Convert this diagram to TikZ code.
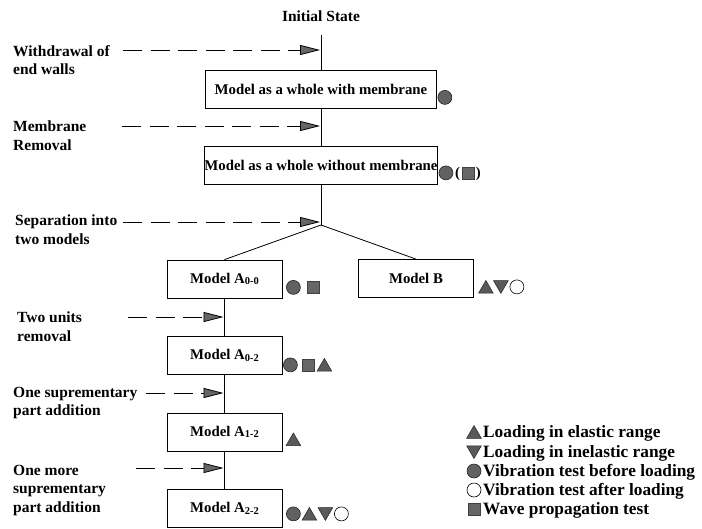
\documentclass[tikz,border=0pt]{standalone}
\usepackage{fontspec}
\setmainfont{Liberation Serif}
\usetikzlibrary{positioning,shapes.geometric,arrows.meta}

\newcommand\mdlsub[1]{{\fontsize{10.5}{11}\selectfont\raisebox{-1.5pt}{#1}}}

\tikzset{
  stage/.style={draw, line width=0.8pt, minimum height=38pt, inner sep=0pt,
    font=\fontsize{14.8}{16}\selectfont\bfseries},
  wholebox/.style={stage, minimum width=231pt},
  modelbox/.style={stage, minimum width=115pt},
  note/.style={anchor=north west, align=left, inner sep=0pt,
    font=\fontsize{15.5}{18.5}\selectfont\bfseries},
  feed/.style={line width=0.8pt, dash pattern=on 19pt off 8.5pt, shorten >=1pt,
    -{Triangle[length=20pt,width=10pt,fill=black!60]}},
  vpre/.style={circle, draw=black!85, fill=black!62, line width=0.6pt,
    minimum size=14pt, inner sep=0pt},
  vpost/.style={circle, draw, line width=0.6pt, minimum size=14pt, inner sep=0pt},
  tri/.style={regular polygon, regular polygon sides=3, draw=black!85, fill=black!65,
    line width=0.5pt, minimum size=17pt, inner sep=0pt},
  lel/.style={tri, yshift=-2pt},
  linel/.style={tri, shape border rotate=180, yshift=2pt},
  wave/.style={rectangle, draw=black!75, fill=black!60, minimum size=12pt, inner sep=0pt},
  key/.style={anchor=base west, inner sep=0pt, font=\fontsize{17.3}{19}\selectfont\bfseries}
}

\begin{document}
\begin{tikzpicture}[x=1pt, y=-1pt, on grid, node distance=76.5pt]
  \useasboundingbox (0,0) rectangle (702,528);

  % main column
  \node[font=\fontsize{15.5}{17}\selectfont\bfseries] (init) at (321,16) {Initial State};
  \node[wholebox] (whole1) at (321,89) {Model as a whole with membrane};
  \node[wholebox] (whole2) [below=of whole1] {Model as a whole without membrane};
  \coordinate[below=59.5pt of whole2] (split);

  \node[modelbox] (a00) at (224.5,279) {Model A\mdlsub{0-0}};
  \node[modelbox] (b) at (416,278.5) {Model B};
  \node[modelbox] (a02) [below=of a00] {Model A\mdlsub{0-2}};
  \node[modelbox] (a12) [below=of a02] {Model A\mdlsub{1-2}};
  \node[modelbox] (a22) [below=of a12] {Model A\mdlsub{2-2}};

  \draw[line width=0.8pt, shorten <=10pt] (init) -- (whole1);
  \draw[line width=0.8pt] (whole1) -- (whole2);
  \draw[line width=0.8pt] (whole2) -- (split);
  \draw[line width=0.8pt] (split) -- (a00.north);
  \draw[line width=0.8pt] (split) -- (b.north);
  \draw[line width=0.8pt] (a00) -- (a02);
  \draw[line width=0.8pt] (a02) -- (a12);
  \draw[line width=0.8pt] (a12) -- (a22);

  % operations
  \node[note] (wlab) at (13,45) {Withdrawal of\\end walls};
  \node[note] (mlab) at (13,121) {Membrane\\Removal};
  \node[note] (slab) at (15,215) {Separation into\\two models};
  \node[note] (tlab) at (17,312) {Two units\\removal};
  \node[note] (olab) at (13,387) {One suprementary\\part addition};
  \node[note] (mplab) at (13,465) {One more\\suprementary\\part addition};

  \coordinate (wfrom) at (123,50);
  \coordinate (mfrom) at (122,126);
  \coordinate (sfrom) at (123,222);
  \coordinate (tfrom) at (128,317);
  \coordinate (ofrom) at (146,393);
  \coordinate (mpfrom) at (136,468);
  \draw[feed] (wfrom) -- (wfrom -| whole1);
  \draw[feed] (mfrom) -- (mfrom -| whole2);
  \draw[feed] (sfrom) -- (sfrom -| split);
  \draw[feed] (tfrom) -- (tfrom -| a00);
  \draw[feed] (ofrom) -- (ofrom -| a02);
  \draw[feed] (mpfrom) -- (mpfrom -| a12);

  % tests
  \coordinate (w1s) at ([xshift=8pt,yshift=11pt]whole1.south east);
  \node[vpre] (w1v) at (w1s) {};

  \coordinate (w2s) at ([xshift=8pt,yshift=12pt]whole2.south east);
  \node[vpre] (w2v) at (w2s) {};
  \node[wave] (w2w) at ([xshift=22pt]w2s) {};
  \node[inner sep=0pt, font=\fontsize{14.8}{16}\selectfont\bfseries] (w2p) at ([xshift=22pt,yshift=-1pt]w2s) {(\hspace{16pt})};

  \coordinate (a0s) at ([xshift=11pt,yshift=11pt]a00.south east);
  \node[vpre] (a0v) at (a0s) {};
  \node[wave] (a0w) at ([xshift=20pt]a0s) {};

  \coordinate (bs) at ([xshift=12pt,yshift=11pt]b.south east);
  \node[lel] (bl) at (bs) {};
  \node[linel] (bi) at ([xshift=15pt]bs) {};
  \node[vpost] (bo) at ([xshift=31pt]bs) {};

  \coordinate (a2s) at ([xshift=8pt,yshift=10pt]a02.south east);
  \node[vpre] (a2v) at (a2s) {};
  \node[wave] (a2w) at ([xshift=18pt]a2s) {};
  \node[lel] (a2l) at ([xshift=34pt]a2s) {};

  \coordinate (a1s) at ([xshift=11pt,yshift=12pt]a12.south east);
  \node[lel] (a1l) at (a1s) {};

  \coordinate (a22s) at ([xshift=11pt,yshift=14pt]a22.south east);
  \node[vpre] (a22v) at (a22s) {};
  \node[lel] (a22l) at ([xshift=16pt]a22s) {};
  \node[linel] (a22i) at ([xshift=32pt]a22s) {};
  \node[vpost] (a22o) at ([xshift=48pt]a22s) {};

  % legend
  \node[lel] (k1) at (474,432) {};
  \node[linel] (k2) at (474,452) {};
  \node[vpre] (k3) at (474,471) {};
  \node[vpost] (k4) at (474,490) {};
  \node[wave] (k5) at (474,509) {};
  \node[key] (t1) at (483,437.5) {Loading in elastic range};
  \node[key] (t2) at (483,457.5) {Loading in inelastic range};
  \node[key] (t3) at (483,476.5) {Vibration test before loading};
  \node[key] (t4) at (483,495.5) {Vibration test after loading};
  \node[key] (t5) at (483,514.5) {Wave propagation test};
\end{tikzpicture}
\end{document}
